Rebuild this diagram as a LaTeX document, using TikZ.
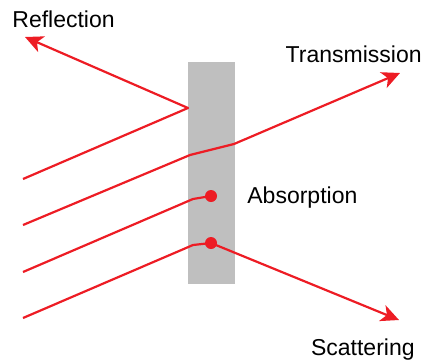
\documentclass[tikz,border=0pt]{standalone}
\usepackage{fontspec}
\setmainfont{Liberation Sans}
\usepackage{tikz}
\usetikzlibrary{arrows.meta,positioning}
\definecolor{rayred}{RGB}{237,28,36}
\definecolor{slabgray}{RGB}{191,191,191}

\begin{document}
\begin{tikzpicture}[x=0.5pt,y=-0.5pt]
  \tikzset{ray/.style={draw=rayred,line width=1.1pt,line join=round},
           arr/.style={-{Stealth[length=9pt,width=8.5pt,inset=2.5pt]}},
           hit/.style={circle,fill=rayred,inner sep=0pt,minimum size=6pt},
           lbl/.style={inner sep=0pt,font=\fontsize{11.5}{13}\selectfont}}
  \useasboundingbox (0,0) rectangle (422,360);

  % slab
  \node[fill=slabgray,inner sep=0pt,minimum width=23.5pt,minimum height=111pt] (slab) at (211.5,173) {};

  % labels
  \node[lbl,anchor=base west] (reflLbl) at (12,27) {Reflection};
  \node[lbl,anchor=base east] (transLbl) at (422,62) {Transmission};
  \node[lbl,anchor=base west] (absLbl) at (247,203) {Absorption};
  \node[lbl,anchor=base east] (scatLbl) at (415,355) {Scattering};

  % reflection
  \coordinate (r0) at (23,179);
  \coordinate (r1) at (188,108);
  \coordinate (r2) at (25,37);
  \path[ray,arr] (r0) -- (r1) -- (r2);

  % transmission
  \coordinate (t0) at (23,225);
  \coordinate (t1) at (190,155);
  \coordinate (t2) at (234,144);
  \coordinate (t3) at (400,73);
  \path[ray,arr] (t0) -- (t1) -- (t2) -- (t3);

  % absorption
  \coordinate (a0) at (23,272);
  \coordinate (a1) at (193,199);
  \node[hit] (aDot) at (211,196) {};
  \path[ray] (a0) -- (a1) -- (aDot.center);

  % scattering
  \coordinate (s0) at (23,318);
  \coordinate (s1) at (193,245);
  \node[hit] (sDot) at (211,243) {};
  \coordinate (s3) at (399,320);
  \path[ray] (s0) -- (s1) -- (sDot.center);
  \path[ray,arr] (sDot.center) -- (s3);
\end{tikzpicture}
\end{document}
